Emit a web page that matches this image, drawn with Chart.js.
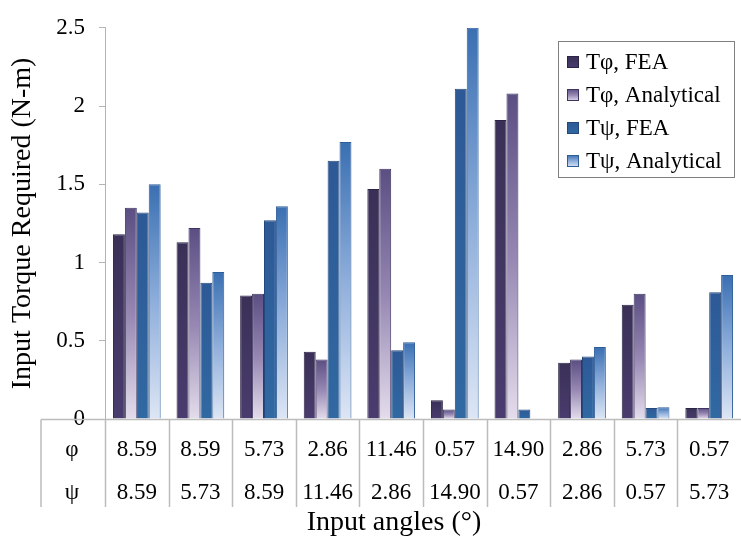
<!DOCTYPE html>
<html>
<head>
<meta charset="utf-8">
<script src="https://cdn.jsdelivr.net/npm/chart.js@4.4.0/dist/chart.umd.min.js"></script>
<style>
    body { margin: 0; background: #fff; overflow: hidden; }
    #wrap { width: 741px; height: 546px; }
</style>
</head>
<body>
<div id="wrap"><canvas id="torqueChart" width="741" height="546"></canvas></div>
<script>
// Data
const phiAngles = ["8.59", "8.59", "5.73", "2.86", "11.46", "0.57", "14.90", "2.86", "5.73", "0.57"];
const psiAngles = ["8.59", "5.73", "8.59", "11.46", "2.86", "14.90", "0.57", "2.86", "0.57", "5.73"];
const seriesNames = ["Tφ, FEA", "Tφ, Analytical", "Tψ, FEA", "Tψ, Analytical"];
const tPhiFEA = [1.18, 1.13, 0.79, 0.43, 1.47, 0.12, 1.91, 0.36, 0.73, 0.07];
const tPhiAnalytical = [1.35, 1.22, 0.80, 0.38, 1.60, 0.06, 2.08, 0.38, 0.80, 0.07];
const tPsiFEA = [1.32, 0.87, 1.27, 1.65, 0.44, 2.11, 0.06, 0.40, 0.07, 0.81];
const tPsiAnalytical = [1.50, 0.94, 1.36, 1.77, 0.49, 2.50, 0.00, 0.46, 0.075, 0.92];
const yTicks = [0, 0.5, 1, 1.5, 2, 2.5];

const serif = "'Liberation Serif', 'Times New Roman', serif";
Chart.defaults.font.family = serif;
Chart.defaults.color = "#000";

// gradient stops per series (top -> bottom of each bar)
const fills = [
    [[0, "#3a3057"], [1, "#4a3c6e"]],
    [[0, "#5b4e82"], [0.5, "#9586b2"], [1, "#e4ddec"]],
    [[0, "#2d5996"], [1, "#3169a2"]],
    [[0, "#3a6fb2"], [0.5, "#8eaedb"], [1, "#dde6f5"]],
];
const outlines = ["#2b2444", "#3e3460", "#24487c", "#2f5d98"];

function makeGradient(ctx2d, top, bottom, stops) {
    const g = ctx2d.createLinearGradient(0, top, 0, bottom);
    stops.forEach(function (s) { g.addColorStop(s[0], s[1]); });
    return g;
}

function barFill(i) {
    return function (context) {
        const chart = context.chart;
        if (!chart.chartArea || context.raw == null) return fills[i][0][1];
        const y = chart.scales.y;
        const top = y.getPixelForValue(context.raw);
        const base = y.getPixelForValue(0);
        if (base - top < 1) return fills[i][0][1];
        return makeGradient(chart.ctx, top, base, fills[i]);
    };
}

// legend box inside the plot, top right
const boxLegend = {
    id: "boxLegend",
    afterDraw(chart) {
        const c = chart.ctx;
        c.save();
        c.fillStyle = "#fff";
        c.fillRect(558, 41, 176, 136);
        c.strokeStyle = "#7f7f7f";
        c.lineWidth = 1;
        c.strokeRect(558.5, 41.5, 176, 136);
        c.font = "23px " + serif;
        c.textBaseline = "middle";
        const rows = [62, 95, 128, 161];
        chart.data.datasets.forEach(function (ds, i) {
            const y = rows[i];
            c.fillStyle = makeGradient(c, y - 6, y + 6, fills[i]);
            c.fillRect(567, y - 6, 12, 12);
            c.strokeStyle = outlines[i];
            c.strokeRect(567.5, y - 5.5, 11, 11);
            c.fillStyle = "#000";
            c.fillText(ds.label, 586, y + 1);
        });
        c.restore();
    },
};

// angle table under the bars
const angleTable = {
    id: "angleTable",
    afterDraw(chart) {
        const c = chart.ctx;
        const area = chart.chartArea;
        const xs = chart.scales.x;
        const n = phiAngles.length;
        const catW = (area.right - area.left) / n;
        const lineY = Math.round(area.bottom) + 0.5;
        c.save();
        c.strokeStyle = "#bcbcbc";
        c.lineWidth = 1.5;
        c.beginPath();
        c.moveTo(41, lineY);
        c.lineTo(area.right, lineY);
        c.moveTo(41, lineY);
        c.lineTo(41, 507);
        for (let i = 0; i < n; i++) {
            const x = Math.round(area.left + i * catW) + 0.5;
            c.moveTo(x, lineY);
            c.lineTo(x, 507);
        }
        c.stroke();

        c.fillStyle = "#000";
        c.font = "23px " + serif;
        c.textAlign = "center";
        c.textBaseline = "middle";
        c.fillText("φ", 72, 450);
        c.fillText("ψ", 72, 493);
        for (let i = 0; i < n; i++) {
            const x = xs.getPixelForValue(i);
            c.fillText(phiAngles[i], x, 450);
            c.fillText(psiAngles[i], x, 493);
        }
        c.font = "28px " + serif;
        c.fillText("Input angles (°)", 394, 523);
        c.restore();
    },
};

const chart1 = document.getElementById("torqueChart");

new Chart(chart1, {
    type: "bar",
    data: {
        labels: phiAngles.map(function (p, i) { return p + " / " + psiAngles[i]; }),
        datasets: [tPhiFEA, tPhiAnalytical, tPsiFEA, tPsiAnalytical].map(function (vals, i) {
            return {
                label: seriesNames[i],
                data: vals,
                backgroundColor: barFill(i),
                borderColor: outlines[i],
                borderWidth: 1,
                categoryPercentage: 0.75,
                barPercentage: 1.0,
            };
        }),
    },
    options: {
        responsive: false,
        animation: false,
        layout: {
            padding: { top: 21, right: 0, bottom: 127, left: 0 },
        },
        plugins: {
            legend: { display: false },
            tooltip: { enabled: false },
        },
        scales: {
            x: {
                display: false,
            },
            y: {
                min: 0,
                max: 2.5,
                afterBuildTicks: function (scale) {
                    scale.ticks = yTicks.map(function (v) { return { value: v }; });
                },
                afterFit: function (scale) {
                    scale.width = 105;
                },
                ticks: {
                    font: { size: 23 },
                    color: "#000",
                    padding: 14,
                    callback: function (v) { return String(v); },
                },
                grid: {
                    drawOnChartArea: false,
                    drawTicks: true,
                    tickLength: 6,
                    color: "#b4b4b4",
                },
                border: { color: "#b4b4b4", width: 1 },
                title: {
                    display: true,
                    text: "Input Torque Required (N-m)",
                    font: { size: 28 },
                    color: "#000",
                    padding: { top: 6, bottom: 0 },
                },
            },
        },
    },
    plugins: [angleTable, boxLegend],
});
</script>
</body>
</html>
